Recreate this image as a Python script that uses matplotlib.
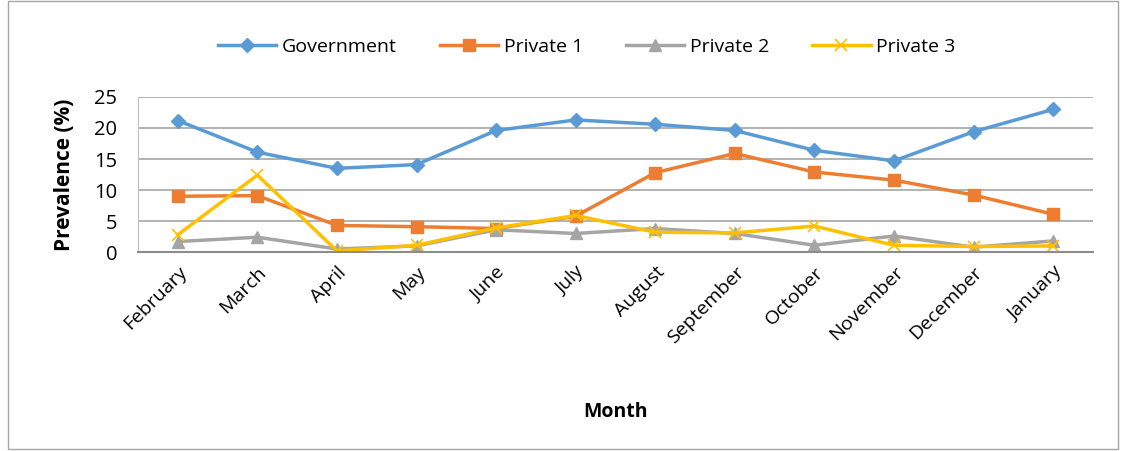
import matplotlib.pyplot as plt
from matplotlib.patches import Rectangle

months = ['February', 'March', 'April', 'May', 'June', 'July', 'August',
          'September', 'October', 'November', 'December', 'January']
government = [21.2, 16.1, 13.5, 14.1, 19.6, 21.3, 20.6, 19.6, 16.4, 14.7, 19.4, 23.0]
private1 = [9.0, 9.1, 4.3, 4.1, 3.8, 5.8, 12.8, 15.9, 12.9, 11.6, 9.2, 6.1]
private2 = [1.7, 2.4, 0.5, 1.0, 3.6, 3.0, 3.8, 3.0, 1.1, 2.6, 0.8, 1.8]
private3 = [2.8, 12.4, 0.2, 1.1, 3.9, 5.9, 3.2, 3.1, 4.2, 1.1, 0.9, 1.0]

plt.rcParams['font.family'] = ['Open Sans', 'DejaVu Sans']

fig = plt.figure(figsize=(11.26, 4.51), dpi=100)
ax = fig.add_axes([0.1226, 0.441, 0.848, 0.344])

x = range(len(months))
ax.plot(x, government, color='#5B9BD5', lw=2.5, marker='D', ms=7, label='Government')
ax.plot(x, private1, color='#ED7D31', lw=2.5, marker='s', ms=9, label='Private 1')
ax.plot(x, private2, color='#A5A5A5', lw=2.5, marker='^', ms=8, label='Private 2')
ax.plot(x, private3, color='#FFC000', lw=2.5, marker='x', ms=9, mew=1.2, label='Private 3')

ax.set_xlim(-0.5, len(months) - 0.5)
ax.set_ylim(0, 25)
ax.set_yticks([0, 5, 10, 15, 20, 25])
ax.set_xticks(list(x))
ax.set_xticklabels(months, rotation=45, ha='right', rotation_mode='anchor', fontsize=14)
ax.tick_params(axis='y', labelsize=14.5, length=0, pad=15)
ax.tick_params(axis='x', length=0, pad=8)
ax.grid(axis='y', color='#A6A6A6', lw=1.2)
ax.set_axisbelow(True)
for s in ['top', 'right']:
    ax.spines[s].set_visible(False)
ax.spines['left'].set_color('#BFBFBF')
ax.spines['bottom'].set_color('#8C8C8C')
ax.spines['bottom'].set_linewidth(1.5)

ax.set_ylabel('Prevalence (%)', fontsize=15, fontweight='bold', labelpad=14)
ax.set_xlabel('Month', fontsize=14, fontweight='bold', labelpad=40)

ax.legend(loc='lower center', bbox_to_anchor=(0.47, 1.15), ncol=4, frameon=False,
          fontsize=14, handlelength=3, columnspacing=2.2, handletextpad=0.3)

fig.patches.append(Rectangle((0.007, 0.004), 0.986, 0.994, transform=fig.transFigure,
                             fill=False, edgecolor='#A6A6A6', lw=1))

fig.savefig('out.png', dpi=100)
